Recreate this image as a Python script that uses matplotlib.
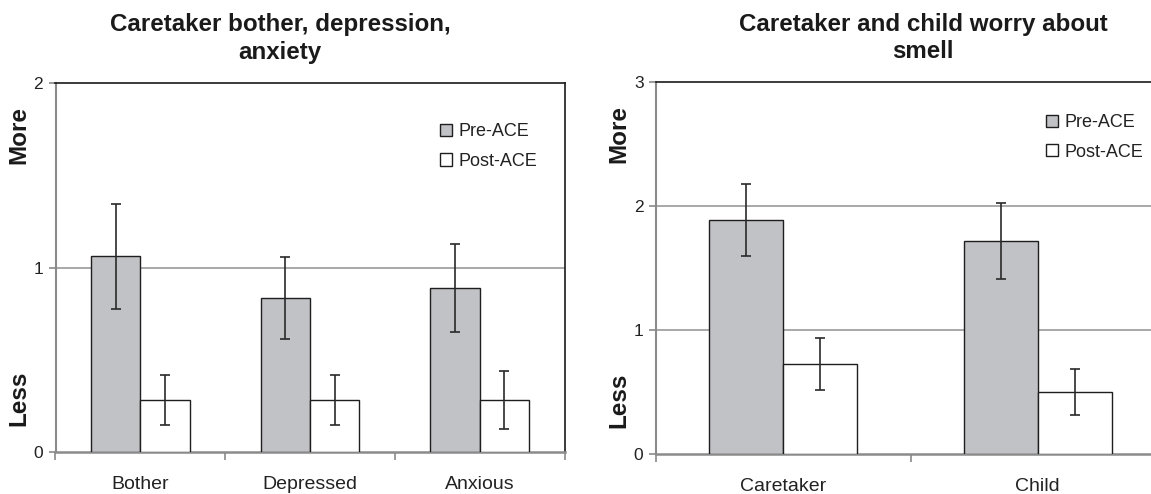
import matplotlib
matplotlib.use("Agg")
import matplotlib.pyplot as plt
from matplotlib.patches import Patch
import numpy as np

plt.rcParams['font.family'] = ['Liberation Sans', 'DejaVu Sans']

# ---- data ----
left_title = "Caretaker bother, depression,\nanxiety"
left_categories = ["Bother", "Depressed", "Anxious"]
left_pre = [1.06, 0.835, 0.89]
left_pre_err = [0.285, 0.22, 0.24]
left_post = [0.28, 0.28, 0.28]
left_post_err = [0.135, 0.135, 0.157]
left_yticks = [0, 1, 2]

right_title = "Caretaker and child worry about\nsmell"
right_categories = ["Caretaker", "Child"]
right_pre = [1.887, 1.718]
right_pre_err = [0.287, 0.31]
right_post = [0.726, 0.503]
right_post_err = [0.21, 0.186]
right_yticks = [0, 1, 2, 3]

series_labels = ["Pre-ACE", "Post-ACE"]
axis_high_label = "More"
axis_low_label = "Less"

PRE_COLOR = "#c1c2c6"
POST_COLOR = "#ffffff"
EDGE = "#1e1e1e"
GRID = "#9a9a9a"
SPINE_GRAY = "#8a8a8a"

W, H = 1151, 494
fig = plt.figure(figsize=(W / 100, H / 100), dpi=100)


def make_panel(rect, cats, pre, pre_err, post, post_err, yticks, legend_anchor):
    ax = fig.add_axes(rect)
    n = len(cats)
    x = np.arange(n)
    bw = 0.29
    ax.bar(x - bw / 2, pre, bw, color=PRE_COLOR, edgecolor=EDGE, linewidth=1.0, zorder=3)
    ax.bar(x + bw / 2, post, bw, color=POST_COLOR, edgecolor=EDGE, linewidth=1.0, zorder=3)
    ax.errorbar(x - bw / 2, pre, yerr=pre_err, fmt='none', ecolor="#2a2a2a",
                elinewidth=1.2, capsize=3.6, capthick=1.2, zorder=4)
    ax.errorbar(x + bw / 2, post, yerr=post_err, fmt='none', ecolor="#2a2a2a",
                elinewidth=1.2, capsize=3.6, capthick=1.2, zorder=4)
    ax.set_xlim(-0.5, n - 0.5)
    ax.set_ylim(yticks[0], yticks[-1])
    ax.set_yticks(yticks)
    ax.set_yticklabels([str(t) for t in yticks])
    for t in yticks[1:-1]:
        ax.axhline(t, color=GRID, linewidth=1.2, zorder=1)
    # x ticks at category boundaries, labels at centers
    ax.set_xticks(np.arange(-0.5, n, 1.0))
    ax.set_xticklabels([])
    ax.set_xticks(x, minor=True)
    ax.set_xticklabels(cats, minor=True)
    ax.tick_params(axis='x', which='major', length=6, width=1.2, color=SPINE_GRAY, direction='out')
    ax.tick_params(axis='x', which='minor', length=0, pad=17, labelsize=14, labelcolor="#222222")
    ax.tick_params(axis='y', length=5, width=1.2, color=SPINE_GRAY, direction='out',
                   pad=4, labelsize=12.5, labelcolor="#222222")
    ax.spines['left'].set_color(SPINE_GRAY)
    ax.spines['left'].set_linewidth(1.5)
    ax.spines['bottom'].set_color(SPINE_GRAY)
    ax.spines['bottom'].set_linewidth(1.8)
    ax.spines['top'].set_color("#1a1a1a")
    ax.spines['top'].set_linewidth(1.2)
    ax.spines['right'].set_color("#1a1a1a")
    ax.spines['right'].set_linewidth(1.2)
    ax.text(-0.072, 0.86, axis_high_label, transform=ax.transAxes, rotation=90,
            ha='center', va='center', fontsize=17.5, fontweight='bold', color="#1a1a1a")
    ax.text(-0.072, 0.145, axis_low_label, transform=ax.transAxes, rotation=90,
            ha='center', va='center', fontsize=17.5, fontweight='bold', color="#1a1a1a")
    handles = [Patch(facecolor=PRE_COLOR, edgecolor=EDGE, linewidth=1.0),
               Patch(facecolor=POST_COLOR, edgecolor=EDGE, linewidth=1.0)]
    leg = ax.legend(handles, series_labels, loc='upper left', bbox_to_anchor=legend_anchor,
                    frameon=False, borderaxespad=0, borderpad=0, handlelength=0.65,
                    handleheight=0.65, handletextpad=0.35, labelspacing=0.7, fontsize=13)
    for t in leg.get_texts():
        t.set_color("#222222")
    return ax


# left panel: x 55.5..564.5, y 83..452
lrect = [55.5 / W, (H - 452) / H, 509 / W, 369 / H]
axl = make_panel(lrect, left_categories, left_pre, left_pre_err, left_post, left_post_err,
                 left_yticks, (0.756, 0.891))
# right panel: x 656..1165 (cropped at figure edge), y 82..454
rrect = [656 / W, (H - 454) / H, 509 / W, 372 / H]
axr = make_panel(rrect, right_categories, right_pre, right_pre_err, right_post, right_post_err,
                 right_yticks, (0.767, 0.914))

fig.text(280 / W, 1 - 13 / H, left_title, ha='center', va='top', fontsize=17.4,
         fontweight='bold', color="#1a1a1a", linespacing=1.25)
fig.text(923 / W, 1 - 13 / H, right_title, ha='center', va='top', fontsize=17.4,
         fontweight='bold', color="#1a1a1a", linespacing=1.25)

fig.savefig("out.png", dpi=100)
